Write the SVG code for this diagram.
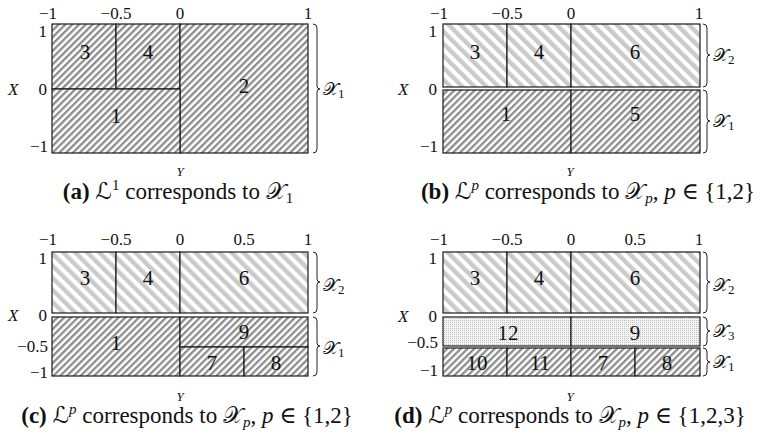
<svg xmlns="http://www.w3.org/2000/svg" width="761" height="438" viewBox="0 0 761 438">
<style>
text{font-family:"Liberation Serif","DejaVu Serif",serif;fill:#111}
.tkm{font-size:17px;text-anchor:middle}
.tke{font-size:17px;text-anchor:end}
.ax{font-size:17px;font-style:italic}
.ay{font-size:13px;font-style:italic;text-anchor:middle}
.num{font-size:21px;text-anchor:middle}
.cap{font-size:23px;text-anchor:middle}
.scr{font-family:"DejaVu Serif","DejaVu Sans","Noto Sans",serif}
.lab{font-size:18px}
.dk{fill:url(#dark);stroke:#1a1a1a;stroke-width:1.2}
.lt{fill:url(#light);stroke:#1a1a1a;stroke-width:1.2}
.dt{fill:url(#dots);stroke:#1a1a1a;stroke-width:1.2}
.br{fill:none;stroke:#222;stroke-width:1}
</style>
<defs>
<pattern id="dark" patternUnits="userSpaceOnUse" width="4.8" height="10" patternTransform="rotate(45)">
<rect width="4.8" height="10" fill="#fff"/>
<rect width="2.3" height="10" fill="#8c8c8c"/>
</pattern>
<pattern id="light" patternUnits="userSpaceOnUse" width="8.5" height="10" patternTransform="rotate(-45)">
<rect width="8.5" height="10" fill="#fff"/>
<rect width="4.4" height="10" fill="#cacaca"/>
</pattern>
<pattern id="dots" patternUnits="userSpaceOnUse" width="2" height="2">
<rect width="2" height="2" fill="#f4f4f4"/>
<rect width="1" height="1" fill="#c0c0c0"/>
</pattern>
</defs>

<!-- Panel a -->
<g id="panel-a">
<g id="a-r3"><rect class="dk" x="52" y="24" width="64" height="65"/><text class="num" x="85" y="59">3</text></g>
<g id="a-r4"><rect class="dk" x="116" y="24" width="64" height="65"/><text class="num" x="148" y="59">4</text></g>
<g id="a-r2"><rect class="dk" x="180" y="24" width="128" height="129"/><text class="num" x="244" y="93">2</text></g>
<g id="a-r1"><rect class="dk" x="52" y="89" width="128" height="64"/><text class="num" x="116" y="123">1</text></g>
<text class="tke" x="57" y="19">−1</text>
<text class="tkm" x="116" y="19">−0.5</text>
<text class="tkm" x="180" y="19">0</text>
<text class="tkm" x="308" y="19">1</text>
<text class="tke" x="47" y="37">1</text>
<text class="tke" x="47" y="95">0</text>
<text class="tke" x="48" y="152">−1</text>
<text class="ax" x="8" y="95">X</text>
<text class="ay" x="180" y="176">Y</text>
<path class="br" d="M313 24 Q317 24 317 28 L317 86 Q317 89 320 89 Q317 89 317 92 L317 149 Q317 153 313 153"/>
<text class="lab" x="323" y="95"><tspan class="scr">𝒳</tspan><tspan font-size="13" dy="3">1</tspan></text>
<text class="cap" x="178" y="199"><tspan font-weight="bold">(a)</tspan> <tspan class="scr">ℒ</tspan><tspan font-size="15" dy="-9">1</tspan><tspan dy="9"> corresponds to </tspan><tspan class="scr">𝒳</tspan><tspan font-size="15" dy="4">1</tspan></text>
</g>

<!-- Panel b -->
<g id="panel-b">
<g id="b-r3"><rect class="lt" x="443" y="24" width="64" height="63"/><text class="num" x="475" y="59">3</text></g>
<g id="b-r4"><rect class="lt" x="507" y="24" width="64" height="63"/><text class="num" x="539" y="59">4</text></g>
<g id="b-r6"><rect class="lt" x="571" y="24" width="129" height="63"/><text class="num" x="635" y="59">6</text></g>
<g id="b-r1"><rect class="dk" x="443" y="90" width="128" height="63"/><text class="num" x="506" y="121">1</text></g>
<g id="b-r5"><rect class="dk" x="571" y="90" width="129" height="63"/><text class="num" x="635" y="121">5</text></g>
<text class="tke" x="448" y="19">−1</text>
<text class="tkm" x="507" y="19">−0.5</text>
<text class="tkm" x="571" y="19">0</text>
<text class="tkm" x="699" y="19">1</text>
<text class="tke" x="437" y="37">1</text>
<text class="tke" x="437" y="95">0</text>
<text class="tke" x="438" y="152">−1</text>
<text class="ax" x="398" y="95">X</text>
<text class="ay" x="570" y="176">Y</text>
<path class="br" d="M703 24 Q707 24 707 28 L707 52 Q707 55 710 55 Q707 55 707 58 L707 83 Q707 87 703 87"/>
<path class="br" d="M703 90 Q707 90 707 94 L707 118 Q707 121 710 121 Q707 121 707 124 L707 149 Q707 153 703 153"/>
<text class="lab" x="713" y="61"><tspan class="scr">𝒳</tspan><tspan font-size="13" dy="3">2</tspan></text>
<text class="lab" x="713" y="127"><tspan class="scr">𝒳</tspan><tspan font-size="13" dy="3">1</tspan></text>
<text class="cap" x="588" y="199"><tspan font-weight="bold">(b)</tspan> <tspan class="scr">ℒ</tspan><tspan font-size="15" font-style="italic" dy="-9">p</tspan><tspan dy="9"> corresponds to </tspan><tspan class="scr">𝒳</tspan><tspan font-size="15" font-style="italic" dy="4">p</tspan><tspan dy="-4">, </tspan><tspan font-style="italic">p</tspan> ∈ {1,2}</text>
</g>

<!-- Panel c -->
<g id="panel-c">
<g id="c-r3"><rect class="lt" x="52" y="252" width="64" height="61"/><text class="num" x="85" y="285">3</text></g>
<g id="c-r4"><rect class="lt" x="116" y="252" width="64" height="61"/><text class="num" x="148" y="285">4</text></g>
<g id="c-r6"><rect class="lt" x="180" y="252" width="128" height="61"/><text class="num" x="244" y="285">6</text></g>
<g id="c-r1"><rect class="dk" x="52" y="317" width="128" height="59"/><text class="num" x="116" y="350">1</text></g>
<g id="c-r9"><rect class="dk" x="180" y="317" width="128" height="30"/><text class="num" x="244" y="339">9</text></g>
<g id="c-r7"><rect class="dk" x="180" y="347" width="64" height="29"/><text class="num" x="212" y="370">7</text></g>
<g id="c-r8"><rect class="dk" x="244" y="347" width="64" height="29"/><text class="num" x="276" y="370">8</text></g>
<text class="tke" x="57" y="245">−1</text>
<text class="tkm" x="116" y="245">−0.5</text>
<text class="tkm" x="180" y="245">0</text>
<text class="tkm" x="244" y="245">0.5</text>
<text class="tkm" x="308" y="245">1</text>
<text class="tke" x="47" y="264">1</text>
<text class="tke" x="47" y="321">0</text>
<text class="tke" x="48" y="352">−0.5</text>
<text class="tke" x="48" y="378">−1</text>
<text class="ax" x="8" y="321">X</text>
<text class="ay" x="180" y="401">Y</text>
<path class="br" d="M313 252 Q317 252 317 256 L317 279 Q317 282 320 282 Q317 282 317 285 L317 309 Q317 313 313 313"/>
<path class="br" d="M313 317 Q317 317 317 321 L317 343 Q317 346 320 346 Q317 346 317 349 L317 372 Q317 376 313 376"/>
<text class="lab" x="323" y="291"><tspan class="scr">𝒳</tspan><tspan font-size="13" dy="3">2</tspan></text>
<text class="lab" x="323" y="354"><tspan class="scr">𝒳</tspan><tspan font-size="13" dy="3">1</tspan></text>
<text class="cap" x="187" y="423"><tspan font-weight="bold">(c)</tspan> <tspan class="scr">ℒ</tspan><tspan font-size="15" font-style="italic" dy="-9">p</tspan><tspan dy="9"> corresponds to </tspan><tspan class="scr">𝒳</tspan><tspan font-size="15" font-style="italic" dy="4">p</tspan><tspan dy="-4">, </tspan><tspan font-style="italic">p</tspan> ∈ {1,2}</text>
</g>

<!-- Panel d -->
<g id="panel-d">
<g id="d-r3"><rect class="lt" x="443" y="252" width="64" height="61"/><text class="num" x="475" y="285">3</text></g>
<g id="d-r4"><rect class="lt" x="507" y="252" width="64" height="61"/><text class="num" x="539" y="285">4</text></g>
<g id="d-r6"><rect class="lt" x="571" y="252" width="129" height="61"/><text class="num" x="635" y="285">6</text></g>
<g id="d-r12"><rect class="dt" x="443" y="317" width="128" height="29"/><text class="num" x="508" y="340">12</text></g>
<g id="d-r9"><rect class="dt" x="571" y="317" width="129" height="29"/><text class="num" x="635" y="340">9</text></g>
<g id="d-r10"><rect class="dk" x="443" y="348" width="64" height="28"/><text class="num" x="477" y="370">10</text></g>
<g id="d-r11"><rect class="dk" x="507" y="348" width="64" height="28"/><text class="num" x="540" y="370">11</text></g>
<g id="d-r7"><rect class="dk" x="571" y="348" width="64" height="28"/><text class="num" x="603" y="370">7</text></g>
<g id="d-r8"><rect class="dk" x="635" y="348" width="65" height="28"/><text class="num" x="667" y="370">8</text></g>
<text class="tke" x="448" y="245">−1</text>
<text class="tkm" x="507" y="245">−0.5</text>
<text class="tkm" x="571" y="245">0</text>
<text class="tkm" x="635" y="245">0.5</text>
<text class="tkm" x="699" y="245">1</text>
<text class="tke" x="437" y="264">1</text>
<text class="tke" x="437" y="322">0</text>
<text class="tke" x="438" y="348">−0.5</text>
<text class="tke" x="438" y="376">−1</text>
<text class="ax" x="398" y="322">X</text>
<text class="ay" x="570" y="401">Y</text>
<path class="br" d="M703 252 Q707 252 707 256 L707 279 Q707 282 710 282 Q707 282 707 285 L707 309 Q707 313 703 313"/>
<path class="br" d="M703 317 Q707 317 707 321 L707 328 Q707 331 710 331 Q707 331 707 334 L707 342 Q707 346 703 346"/>
<path class="br" d="M703 348 Q707 348 707 352 L707 359 Q707 362 710 362 Q707 362 707 365 L707 372 Q707 376 703 376"/>
<text class="lab" x="713" y="291"><tspan class="scr">𝒳</tspan><tspan font-size="13" dy="3">2</tspan></text>
<text class="lab" x="713" y="337"><tspan class="scr">𝒳</tspan><tspan font-size="13" dy="3">3</tspan></text>
<text class="lab" x="713" y="368"><tspan class="scr">𝒳</tspan><tspan font-size="13" dy="3">1</tspan></text>
<text class="cap" x="570" y="423"><tspan font-weight="bold">(d)</tspan> <tspan class="scr">ℒ</tspan><tspan font-size="15" font-style="italic" dy="-9">p</tspan><tspan dy="9"> corresponds to </tspan><tspan class="scr">𝒳</tspan><tspan font-size="15" font-style="italic" dy="4">p</tspan><tspan dy="-4">, </tspan><tspan font-style="italic">p</tspan> ∈ {1,2,3}</text>
</g>
</svg>
